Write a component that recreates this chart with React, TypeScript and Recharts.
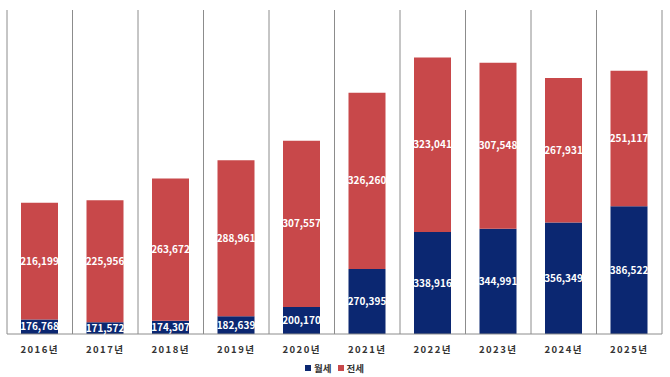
import React from 'react';
import { BarChart, Bar, XAxis, YAxis, CartesianGrid, Legend, LabelList } from 'recharts';

const years = ['2016년', '2017년', '2018년', '2019년', '2020년', '2021년', '2022년', '2023년', '2024년', '2025년'];
const wolse = [176768, 171572, 174307, 182639, 200170, 270395, 338916, 344991, 356349, 386522];
const jeonse = [216199, 225956, 263672, 288961, 307557, 326260, 323041, 307548, 267931, 251117];

const data = years.map((y, i) => ({ year: y, 월세: wolse[i], 전세: jeonse[i] }));

const NAVY = '#0b2771';
const RED = '#c8484a';
const FONT = '"Noto Sans CJK KR", "Noto Sans", sans-serif';

const fmt = (v: any) => Number(v).toLocaleString('en-US');

const gridGen = ({ offset }: any) => {
  const n = years.length;
  const arr: number[] = [];
  for (let i = 0; i <= n; i++) arr.push(offset.left + (offset.width * i) / n);
  return arr;
};

const LegendContent = (props: any) => {
  const { payload } = props;
  return (
    <div style={{ display: 'flex', justifyContent: 'center', alignItems: 'center', paddingTop: 6, fontFamily: FONT, fontSize: 9.5, fontWeight: 700, color: '#333', lineHeight: '12px' }}>
      {(payload || []).map((p: any, i: number) => (
        <div key={i} style={{ display: 'flex', alignItems: 'center', marginLeft: i === 0 ? 0 : 6 }}>
          <span style={{ display: 'inline-block', width: 6, height: 6, background: p.color, marginRight: 3 }} />
          <span>{p.value}</span>
        </div>
      ))}
    </div>
  );
};

export default function App() {
  return (
    <div style={{ position: 'absolute', left: 0, top: 0, width: 670, height: 377, background: '#fff' }}>
      <BarChart
        width={670}
        height={377}
        data={data}
        margin={{ top: 10, right: 8, left: 7, bottom: 0 }}
        barSize={37}
      >
        <CartesianGrid horizontal={false} vertical stroke="#8c8c8c" strokeWidth={1} verticalCoordinatesGenerator={gridGen} />
        <XAxis
          dataKey="year"
          height={22}
          tickLine={false}
          axisLine={{ stroke: '#8c8c8c' }}
          tickMargin={6}
          tick={{ fontSize: 9.5, fontWeight: 700, fill: '#333', fontFamily: FONT, letterSpacing: 1.5 }}
          interval={0}
        />
        <YAxis hide domain={[150000, 750000]} allowDataOverflow type="number" />
        <Legend height={21} content={<LegendContent />} />
        <Bar dataKey="월세" stackId="a" fill={NAVY} isAnimationActive={false}>
          <LabelList dataKey="월세" position="center" fill="#fff" fontSize={10} fontWeight={700} fontFamily={FONT} formatter={fmt} />
        </Bar>
        <Bar dataKey="전세" stackId="a" fill={RED} isAnimationActive={false}>
          <LabelList dataKey="전세" position="center" fill="#fff" fontSize={10} fontWeight={700} fontFamily={FONT} formatter={fmt} />
        </Bar>
      </BarChart>
    </div>
  );
}
